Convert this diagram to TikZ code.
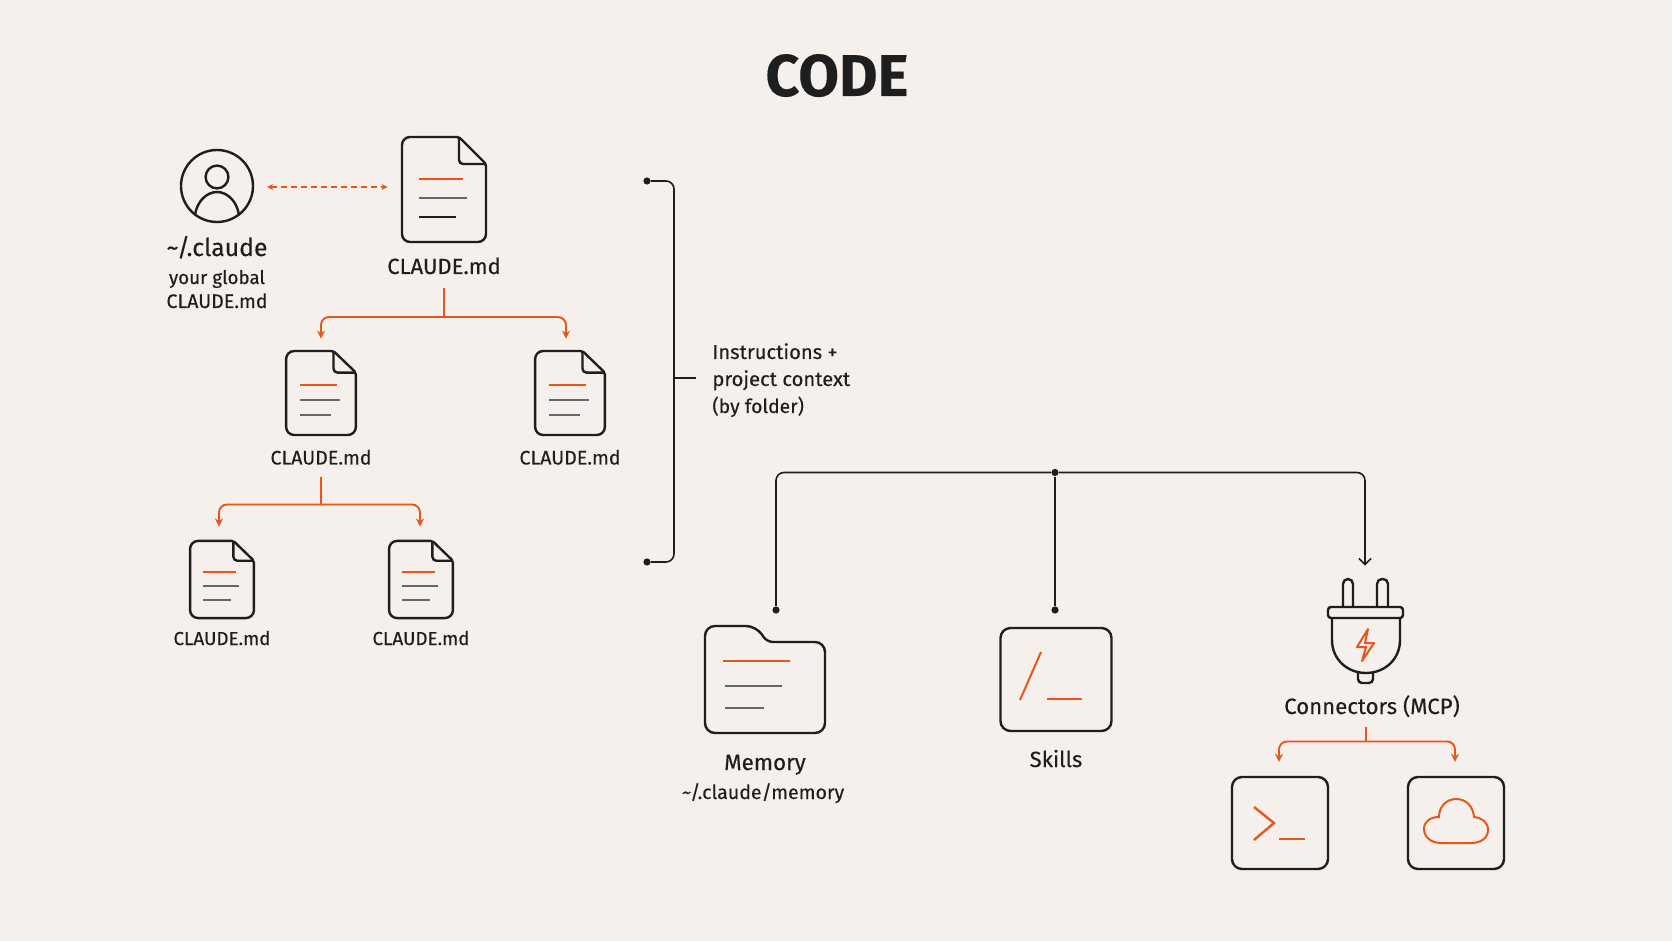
\documentclass[tikz,border=0pt]{standalone}
\usepackage{fontspec}
\setmainfont{Fira Sans}[FakeBold=0.25]
\usetikzlibrary{arrows.meta}
\definecolor{paper}{HTML}{F6F0EC}
\definecolor{ink}{HTML}{1E1E1E}
\definecolor{rust}{HTML}{E8561C}
\definecolor{midgray}{HTML}{666666}
\tikzset{
    txt/.style={inner sep=0pt, anchor=base, text=ink, font=\fontsize{10.1}{12}\selectfont},
    smalltxt/.style={txt, font=\fontsize{9.8}{12}\selectfont},
    tinytxt/.style={txt, font=\fontsize{9.4}{12}\selectfont},
    hold/.style={shape=rectangle, inner sep=0pt},
    iconbox/.style={shape=rectangle, draw=ink, line width=1.2pt, rounded corners=5pt, inner sep=0pt},
    dotnode/.style={shape=circle, fill=ink, inner sep=0pt, minimum size=3.6pt},
    inkline/.style={draw=ink, line width=1.2pt},
    wire/.style={draw=ink, line width=0.8pt, rounded corners=4pt},
    branch/.style={draw=rust, line width=0.95pt, rounded corners=4pt, -{Stealth[length=4pt, width=4pt]}},
    stem/.style={draw=rust, line width=0.95pt},
    rustline/.style={draw=rust, line width=1pt},
    grayline/.style={draw=midgray, line width=1pt}
}
% name, x, y, xscale, yscale, colour of last line
\newcommand{\docicon}[6]{%
    \node [hold, minimum width={#4*42pt}, minimum height={#5*52.5pt}] at (#2,#3) (#1) {};
    \begin{scope}[shift={(#2,#3)}, xscale=#4, yscale=#5]
        \draw [inkline, rounded corners=4pt] (0,52.5) -- (-42,52.5) -- (-42,-52.5)
            [rounded corners=1pt] -- (15,-52.5) -- (42,-25.5)
            [rounded corners=4pt] -- (42,52.5) -- cycle;
        \draw [inkline, rounded corners=2pt] (15,-52.5) -- (15,-25.5) -- (42,-25.5);
        \draw [rustline] (-25,-10.5) -- (19,-10.5);
        \draw [grayline] (-25,8.5) -- (23,8.5);
        \draw [draw=#6, line width=1pt] (-25,27.5) -- (12,27.5);
    \end{scope}
}

\begin{document}
\begin{tikzpicture}[x=0.5pt, y=-0.5pt]
    % page
    \fill [paper] (0,0) rectangle (1672,941);
    \useasboundingbox (0,0) rectangle (1672,941);

    \node [txt, font=\fontsize{29.5}{30}\selectfont\bfseries] at (837,96) (title) {CODE};

    % user
    \node [shape=circle, draw=ink, line width=1.2pt, minimum size=36pt, inner sep=0pt] at (217,186) (user) {};
    \node [shape=circle, draw=ink, line width=1.2pt, minimum size=11.4pt, inner sep=0pt] at (217,177) (head) {};
    \draw [inkline] (195,215) .. controls (197,201) and (207,192) .. (217,192) .. controls (227,192) and (237,201) .. (239,215);
    \node [txt, font=\fontsize{12.4}{12}\selectfont] at (217,256) (home) {\textasciitilde/.claude};
    \node [tinytxt] at (217,284) (homea) {your global};
    \node [smalltxt] at (217,308) (homeb) {CLAUDE.md};

    % documents
    \docicon{docroot}{444}{189.5}{1}{1}{ink}
    \docicon{docleft}{321}{393}{0.83}{0.8}{midgray}
    \docicon{docright}{570}{393}{0.83}{0.8}{midgray}
    \docicon{docsuba}{222}{579.5}{0.76}{0.735}{midgray}
    \docicon{docsubb}{421}{579.5}{0.76}{0.735}{midgray}

    \node [txt, font=\fontsize{11}{12}\selectfont] at (444,274) (labroot) {CLAUDE.md};
    \node [smalltxt] at (321,464.5) (lableft) {CLAUDE.md};
    \node [smalltxt] at (570,464.5) (labright) {CLAUDE.md};
    \node [tinytxt] at (222,645) (labsuba) {CLAUDE.md};
    \node [tinytxt] at (421,645) (labsubb) {CLAUDE.md};

    % splits
    \coordinate (splitroot) at (444,317);
    \coordinate (splitleft) at (321,504.5);
    \coordinate (splitplug) at (1366,741.5);

    \draw [rust, line width=0.9pt, dashed, dash pattern=on 3pt off 2pt, {Stealth[length=3pt, width=3pt]}-{Stealth[length=3pt, width=3pt]}]
        ([xshift=6.5pt]user.east |- 0,187) -- ([xshift=-7pt]docroot.west |- 0,187);

    \draw [stem] ([yshift=-7pt]labroot.base) -- (splitroot);
    \draw [branch, shorten >=6pt] (splitroot) -| (docleft.north);
    \draw [branch, shorten >=6pt] (splitroot) -| ([xshift=-2pt]docright.north);
    \draw [stem] ([yshift=-6pt]lableft.base) -- (splitleft);
    \draw [branch, shorten >=7pt] (splitleft) -| ([xshift=-1.5pt]docsuba.north);
    \draw [branch, shorten >=7pt] (splitleft) -| ([xshift=-0.5pt]docsubb.north);

    % bracket
    \node [dotnode] at (647,181) (brtop) {};
    \node [dotnode] at (647,562) (brbot) {};
    \coordinate (brmid) at (674,378);
    \coordinate (ticktip) at (696,378);
    \draw [wire] (brtop) -- (674,181) -- (674,562) -- (brbot);
    \draw [wire] (brmid) -- (ticktip);
    \node [txt, anchor=base west] at (712,359) (ctxa) {Instructions +};
    \node [txt, anchor=base west] at (712,386) (ctxb) {project context};
    \node [txt, anchor=base west, font=\fontsize{9.7}{12}\selectfont] at (712,413) (ctxc) {(by folder)};

    % top tree
    \node [dotnode] at (1055,472.5) (hub) {};
    \node [dotnode] at (776,610) (dotmem) {};
    \node [dotnode] at (1055,610) (dotskill) {};
    \node [hold, minimum width=37pt, minimum height=52pt] at (1365,631) (plug) {};
    \draw [wire] (hub) -| (dotmem);
    \draw [wire] (hub) -- (dotskill);
    \draw [wire, shorten >=6.5pt, -{Straight Barb[length=3pt, width=6pt]}] (hub) -| (plug.north);

    % memory
    \node [hold, minimum width=60pt, minimum height=53pt] at (765,680) (folder) {};
    \draw [inkline, rounded corners=5pt] (765,733) -- (705,733) -- (705,626) -- (756,626)
        [rounded corners=3pt] -- (767,642) [rounded corners=5pt] -- (825,642) -- (825,733) -- cycle;
    \draw [rustline] (723,661) -- (790,661);
    \draw [grayline] (725,686) -- (782,686);
    \draw [grayline] (725,708) -- (764,708);
    \node [txt, font=\fontsize{11.2}{12}\selectfont] at (765,770) (labmem) {Memory};
    \node [txt, font=\fontsize{9.8}{12}\selectfont] at (763,799) (labmemb) {\textasciitilde/.claude/memory};

    % skills
    \node [iconbox, minimum width=55.5pt, minimum height=51.5pt] at (1056,679.5) (skills) {};
    \draw [rustline] (1041,652) -- (1020,700);
    \draw [rustline] (1047,699) -- (1082,699);
    \node [txt, font=\fontsize{11}{12}\selectfont] at (1056,767) (labskill) {Skills};

    % plug
    \draw [inkline, rounded corners=2.5pt] (1343,607) -- (1343,579) -- (1353,579) -- (1353,607);
    \draw [inkline, rounded corners=2.5pt] (1377,607) -- (1377,579) -- (1388,579) -- (1388,607);
    \draw [inkline, rounded corners=1.5pt] (1328,607) rectangle (1403,618);
    \draw [inkline] (1332,618) -- (1332,640) .. controls (1332,660) and (1348,673) .. (1366,673) .. controls (1384,673) and (1400,660) .. (1400,640) -- (1400,618);
    \draw [inkline, rounded corners=2pt] (1358,673) -- (1358,683) -- (1373,683) -- (1373,673);
    \draw [rustline, line join=round] (1368,629) -- (1357,647) -- (1366,647) -- (1362,661) -- (1374,643) -- (1365,643) -- cycle;
    \node [txt, font=\fontsize{11.1}{12}\selectfont] at (1372,714) (labplug) {Connectors (MCP)};

    \draw [stem] (1366,727) -- (splitplug);
    \node [iconbox, minimum width=48pt, minimum height=46pt] at (1280,823) (term) {};
    \node [iconbox, minimum width=48pt, minimum height=46pt] at (1456,823) (cloud) {};
    \draw [branch, shorten >=7pt] (splitplug) -| ([xshift=-0.5pt]term.north);
    \draw [branch, shorten >=7pt] (splitplug) -| ([xshift=-0.5pt]cloud.north);

    % terminal and cloud
    \draw [rustline, line width=1.2pt] (1254,807) -- (1274,823) -- (1254,840);
    \draw [rustline, line width=1.2pt] (1279,839) -- (1305,839);
    \draw [rustline] (1441,843) .. controls (1431,843) and (1424,837) .. (1424,829)
        .. controls (1424,821) and (1431,817) .. (1439,817)
        .. controls (1439,806) and (1447,799) .. (1456,799)
        .. controls (1466,799) and (1473,806) .. (1474,817)
        .. controls (1482,818) and (1488,822) .. (1488,830)
        .. controls (1488,838) and (1481,843) .. (1471,843) -- cycle;
\end{tikzpicture}
\end{document}
